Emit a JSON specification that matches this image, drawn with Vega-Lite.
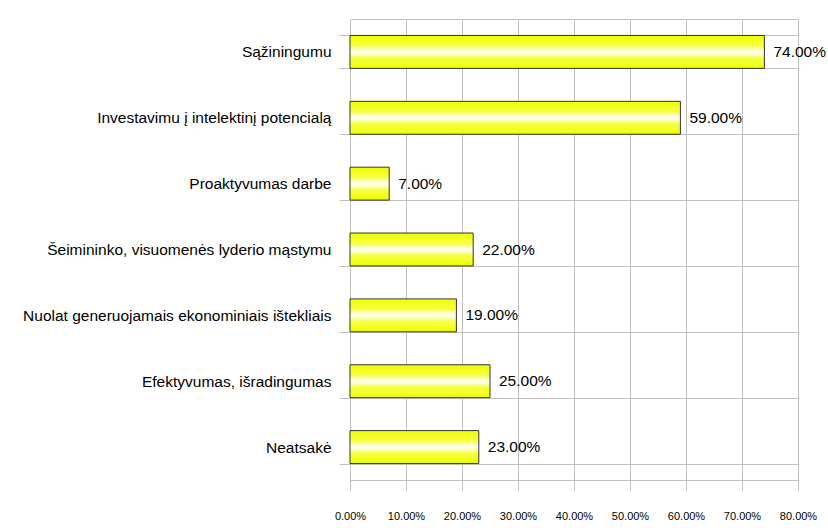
{
  "$schema": "https://vega.github.io/schema/vega-lite/v6.json",
  "autosize": "none",
  "width": 448,
  "height": 461,
  "padding": {"left": 350, "top": 19, "right": 30, "bottom": 48},
  "background": "white",
  "config": {"view": {"stroke": "#c0c0c0", "strokeWidth": 1}},
  "data": {"values": [
    {"category": "Sąžiningumu", "value": 0.74},
    {"category": "Investavimu į intelektinį potencialą", "value": 0.59},
    {"category": "Proaktyvumas darbe", "value": 0.07},
    {"category": "Šeimininko, visuomenės lyderio mąstymu", "value": 0.22},
    {"category": "Nuolat generuojamais ekonominiais ištekliais", "value": 0.19},
    {"category": "Efektyvumas, išradingumas", "value": 0.25},
    {"category": "Neatsakė", "value": 0.23}
  ]},
  "encoding": {
    "y": {
      "field": "category", "type": "nominal", "sort": null,
      "scale": {"paddingInner": 0.5, "paddingOuter": 0.25},
      "axis": {
        "title": null, "tickBand": "extent", "grid": true, "gridColor": "#c0c0c0",
        "tickColor": "#c0c0c0", "tickSize": 11, "domain": false, "labelPadding": 8,
        "labelFont": "Liberation Sans", "labelFontSize": 15.5, "labelColor": "#000", "labelLimit": 400
      }
    },
    "x": {
      "field": "value", "type": "quantitative",
      "scale": {"domain": [0, 0.8], "nice": false},
      "axis": {
        "title": null, "format": ".2%", "values": [0, 0.1, 0.2, 0.3, 0.4, 0.5, 0.6, 0.7, 0.8],
        "grid": true, "gridColor": "#c0c0c0", "tickColor": "#c0c0c0", "tickSize": 10,
        "domainColor": "#c0c0c0", "labelPadding": 20, "labelFont": "Liberation Sans",
        "labelFontSize": 11, "labelColor": "#000", "labelFlush": false
      }
    }
  },
  "layer": [
    {
      "mark": {
        "type": "bar", "stroke": "#333333", "strokeWidth": 1,
        "color": {
          "gradient": "linear", "x1": 0, "y1": 0, "x2": 0, "y2": 1,
          "stops": [
            {"offset": 0, "color": "#eeff00"},
            {"offset": 0.3, "color": "#f6ff40"},
            {"offset": 0.5, "color": "#ffffff"},
            {"offset": 0.7, "color": "#f6ff40"},
            {"offset": 1, "color": "#eeff00"}
          ]
        }
      }
    },
    {
      "mark": {"type": "text", "align": "left", "baseline": "middle", "dx": 9, "font": "Liberation Sans", "fontSize": 15.5, "color": "#000"},
      "encoding": {"text": {"field": "value", "type": "quantitative", "format": ".2%"}}
    }
  ]
}
